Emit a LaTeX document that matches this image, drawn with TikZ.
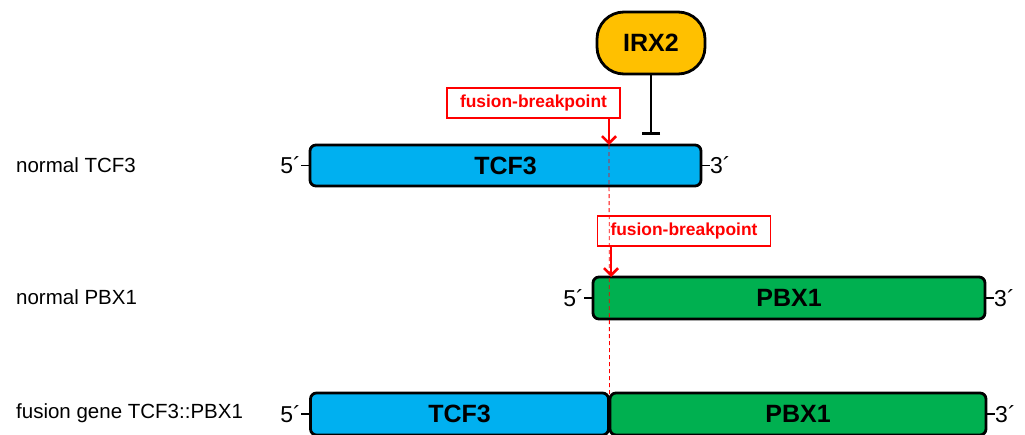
\documentclass[tikz,border=0pt]{standalone}
\usepackage{fontspec}
\setmainfont{Liberation Sans}
\usetikzlibrary{arrows.meta}
\definecolor{geneblue}{HTML}{00B0F0}
\definecolor{genegreen}{HTML}{00B050}
\definecolor{irxorange}{HTML}{FFC000}
\definecolor{bpred}{HTML}{FF0000}
\tikzset{
  genebox/.style={draw=black, line width=2.8pt, rounded corners=6pt, inner sep=0pt,
    font=\fontsize{25}{25}\selectfont\bfseries},
  rowlabel/.style={anchor=west, inner sep=0pt, font=\fontsize{20.5}{20.5}\selectfont},
  endlabel/.style={inner sep=0pt, font=\fontsize{23}{23}\selectfont},
  bplabel/.style={draw=bpred, fill=white, line width=1.8pt, text=bpred, inner sep=0pt,
    minimum width=173pt, minimum height=30pt, font=\fontsize{17.4}{17.4}\selectfont\bfseries},
  bparrow/.style={draw=bpred, line width=2.6pt, -{Straight Barb[length=7pt,width=14pt]}},
  enddash/.style={line width=1.4pt},
}
\begin{document}
\begin{tikzpicture}[x=1pt,y=-1pt]
\useasboundingbox (0,0) rectangle (1025,434);

% row labels
\node[rowlabel] (lab1) at (16,165) {normal TCF3};
\node[rowlabel] (lab2) at (16,297) {normal PBX1};
\node[rowlabel] (lab3) at (16,413) {fusion gene TCF3::PBX1};

% normal TCF3
\node[genebox, fill=geneblue, minimum width=391pt, minimum height=41pt] (tcf) at (505.5,165.5) {TCF3};
% normal PBX1
\node[genebox, fill=genegreen, minimum width=392pt, minimum height=42pt] (pbx) at (789,298) {PBX1};
% fusion gene
\node[genebox, fill=geneblue, minimum width=298pt, minimum height=42pt] (ftcf) at (459.5,414) {TCF3};
\node[genebox, fill=genegreen, minimum width=376pt, minimum height=42pt] (fpbx) at (798,414) {PBX1};

% 5' / 3' ends
\node[endlabel, anchor=east] (t5) at (301,165) {5´};
\node[endlabel, anchor=west] (t3) at (710,165) {3´};
\node[endlabel, anchor=east] (p5) at (584,298) {5´};
\node[endlabel, anchor=west] (p3) at (994,298) {3´};
\node[endlabel, anchor=east] (f5) at (301,414) {5´};
\node[endlabel, anchor=west] (f3) at (995,414) {3´};
\draw[enddash] (t5.east |- tcf.west) -- (tcf.west);
\draw[enddash] (tcf.east) -- (t3.west |- tcf.east);
\draw[enddash] (p5.east |- pbx.west) -- (pbx.west);
\draw[enddash] (pbx.east) -- (p3.west |- pbx.east);
\draw[enddash] (f5.east |- ftcf.west) -- (ftcf.west);
\draw[enddash] (fpbx.east) -- (f3.west |- fpbx.east);

% IRX2 repressor
\node[draw=black, fill=irxorange, line width=2.8pt, rounded corners=27pt,
  minimum width=108pt, minimum height=62pt, inner sep=0pt,
  font=\fontsize{25}{25}\selectfont\bfseries] (irx) at (651,43) {IRX2};
\coordinate (irxtarget) at (651,135);
\draw[line width=2.8pt, -{Bar[width=18pt,line width=2.8pt]}] (irx.south) -- (irxtarget);

% fusion breakpoints
\node[bplabel] (bp1) at (533.5,103) {fusion-breakpoint};
\node[bplabel] (bp2) at (684,231) {fusion-breakpoint};
\coordinate (bp1tip) at (609,145);
\coordinate (bp2tip) at (611,277);
\coordinate (cutend) at (609.5,394);
\draw[bparrow] (bp1.south -| bp1tip) -- (bp1tip);
\draw[bparrow] (bp2.south -| bp2tip) -- (bp2tip);
\draw[bpred, line width=0.8pt, dash pattern=on 4pt off 3pt] (bp1tip) -- (cutend);
\end{tikzpicture}
\end{document}
